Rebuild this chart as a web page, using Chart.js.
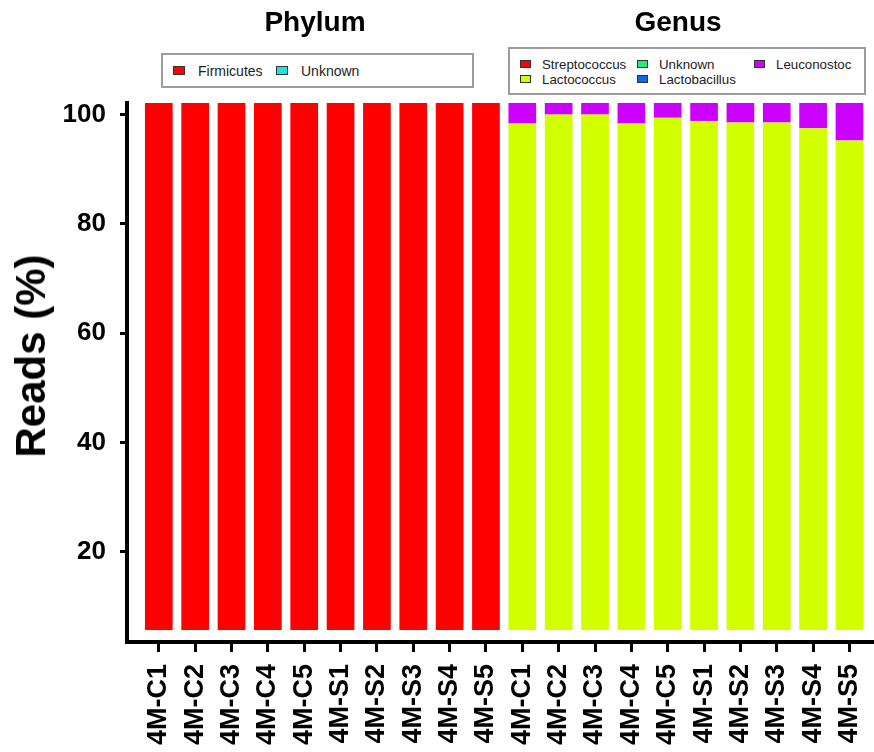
<!DOCTYPE html>
<html>
<head>
<meta charset="utf-8">
<title>Reads (%)</title>
<script src="https://cdn.jsdelivr.net/npm/chart.js@4.4.0/dist/chart.umd.min.js"></script>
<style>
  html, body { margin: 0; padding: 0; background: #fff; }
  #wrap { position: relative; width: 874px; height: 752px; font-family: "Liberation Sans", Arial, sans-serif; color: #000; }
  #wrap canvas { position: absolute; left: 0; top: 0; }
  .panel-title { position: absolute; top: 8px; font-weight: bold; font-size: 28px; line-height: 28px; transform: translateX(-50%); white-space: nowrap; }
  .y-title { position: absolute; left: 31px; top: 356px; font-weight: bold; font-size: 42px; line-height: 42px; white-space: nowrap; transform: translate(-50%, -50%) rotate(-90deg); }
  .legend-box { position: absolute; box-sizing: border-box; border: 2px solid #9c9c9c; background: #fff; display: grid; grid-auto-flow: column; align-items: center; color: #222; }
  .legend-item { display: flex; align-items: center; white-space: nowrap; }
  .swatch { box-sizing: border-box; border: 1px solid #333; }
  #phylum-legend { left: 161px; top: 53px; width: 313px; height: 35px; padding-left: 10px; grid-template-columns: 103px 103px; grid-template-rows: 31px; font-size: 14px; }
  #phylum-legend .swatch { width: 12px; height: 9px; margin-right: 13px; }
  #genus-legend { left: 508px; top: 47px; width: 358px; height: 48px; padding: 7.5px 0 0 10px; grid-template-columns: 117px 117px auto; grid-template-rows: 15px 15px; align-content: start; font-size: 13.3px; }
  #genus-legend .swatch { width: 11px; height: 8px; margin-right: 11px; }
</style>
</head>
<body>
<div id="wrap">
  <canvas id="reads-chart" width="874" height="752"></canvas>
  <div class="panel-title" style="left: 315px;">Phylum</div>
  <div class="panel-title" style="left: 678px;">Genus</div>
  <div class="y-title">Reads (%)</div>
  <div class="legend-box" id="phylum-legend"></div>
  <div class="legend-box" id="genus-legend"></div>
</div>
<script>
// Amostras (mesma ordem nos dois painéis)
const samples = ["4M-C1", "4M-C2", "4M-C3", "4M-C4", "4M-C5", "4M-S1", "4M-S2", "4M-S3", "4M-S4", "4M-S5"];
const categories = samples.concat(samples);
const yTicks = [20, 40, 60, 80, 100];

// Filo (% das leituras)
const phylumNames = ["Firmicutes", "Unknown"];
const phylumColors = ["#ff0000", "#22e3e3"];
const firmicutes = [100, 100, 100, 100, 100, 100, 100, 100, 100, 100];
const phylumUnknown = [0, 0, 0, 0, 0, 0, 0, 0, 0, 0];

// Gênero (% das leituras)
const genusNames = ["Streptococcus", "Lactococcus", "Unknown", "Lactobacillus", "Leuconostoc"];
const genusColors = ["#ff0000", "#d2ff00", "#22ee77", "#1166ee", "#cc00ff"];
const streptococcus = [0, 0, 0, 0, 0, 0, 0, 0, 0, 0];
const lactococcus = [96.1, 97.8, 97.8, 96.1, 97.2, 96.6, 96.3, 96.3, 95.2, 92.9];
const genusUnknown = [0, 0, 0, 0, 0, 0, 0, 0, 0, 0];
const lactobacillus = [0, 0, 0, 0, 0, 0, 0, 0, 0, 0];
const leuconostoc = [3.9, 2.2, 2.2, 3.9, 2.8, 3.4, 3.7, 3.7, 4.8, 7.1];

// No gráfico original 0-100% ocupa a faixa 5.7-102.1 do eixo
const BAR_FLOOR = 5.7;
const BAR_TOP = 102.1;

function stackRanges(series, offset) {
  const cum = series[0].map(() => 0);
  const k = (BAR_TOP - BAR_FLOOR) / 100;
  return series.map((values) =>
    values.map((v, i) => {
      const start = BAR_FLOOR + cum[i] * k;
      cum[i] += v;
      return { x: offset + i, y: [start, BAR_FLOOR + cum[i] * k] };
    })
  );
}

function buildLegend(id, names, colors) {
  const box = document.getElementById(id);
  names.forEach((name, i) => {
    const item = document.createElement("div");
    item.className = "legend-item";
    item.innerHTML = '<span class="swatch" style="background:' + colors[i] + '"></span><span>' + name + "</span>";
    box.appendChild(item);
  });
}

document.addEventListener("DOMContentLoaded", function () {
  buildLegend("phylum-legend", phylumNames, phylumColors);
  buildLegend("genus-legend", genusNames, genusColors);

  const phylumRanges = stackRanges([firmicutes, phylumUnknown], 0);
  const genusRanges = stackRanges([streptococcus, lactococcus, genusUnknown, lactobacillus, leuconostoc], samples.length);

  const datasets = [];
  phylumNames.forEach((name, i) => {
    datasets.push({ label: "Phylum " + name, data: phylumRanges[i], backgroundColor: phylumColors[i] });
  });
  genusNames.forEach((name, i) => {
    datasets.push({ label: "Genus " + name, data: genusRanges[i], backgroundColor: genusColors[i] });
  });

  const font = "'Liberation Sans', Arial, sans-serif";
  const ctx = document.getElementById("reads-chart").getContext("2d");
  new Chart(ctx, {
    type: "bar",
    data: { datasets: datasets },
    options: {
      responsive: false,
      animation: false,
      layout: { padding: { top: 103, right: 0, left: 0, bottom: 0 } },
      datasets: {
        bar: { grouped: false, barPercentage: 0.762, categoryPercentage: 1, borderWidth: 0 },
      },
      plugins: { legend: { display: false }, tooltip: { enabled: false } },
      scales: {
        x: {
          type: "linear",
          offset: false,
          min: -0.875,
          max: 19.675,
          afterBuildTicks: (scale) => {
            scale.ticks = categories.map((c, i) => ({ value: i }));
          },
          afterFit: (scale) => {
            scale.height = 110;
            scale.paddingLeft = 0;
            scale.paddingRight = 0;
          },
          ticks: {
            callback: (v) => categories[v],
            autoSkip: false,
            minRotation: 90,
            maxRotation: 90,
            padding: 12,
            color: "#000",
            font: { family: font, size: 27, weight: "bold" },
          },
          grid: { offset: false, drawOnChartArea: false, drawTicks: true, tickLength: 10, lineWidth: 3, color: "#000" },
          border: { display: true, width: 4, color: "#000" },
        },
        y: {
          min: 3.5,
          max: BAR_TOP,
          afterBuildTicks: (scale) => {
            scale.ticks = yTicks.map((v) => ({ value: v }));
          },
          afterFit: (scale) => {
            scale.width = 127;
          },
          ticks: {
            padding: 14,
            color: "#000",
            font: { family: font, size: 26, weight: "bold" },
          },
          grid: { drawOnChartArea: false, drawTicks: true, tickLength: 7, lineWidth: 3, color: "#000" },
          border: { display: true, width: 4, color: "#000" },
        },
      },
    },
  });
});
</script>
</body>
</html>
